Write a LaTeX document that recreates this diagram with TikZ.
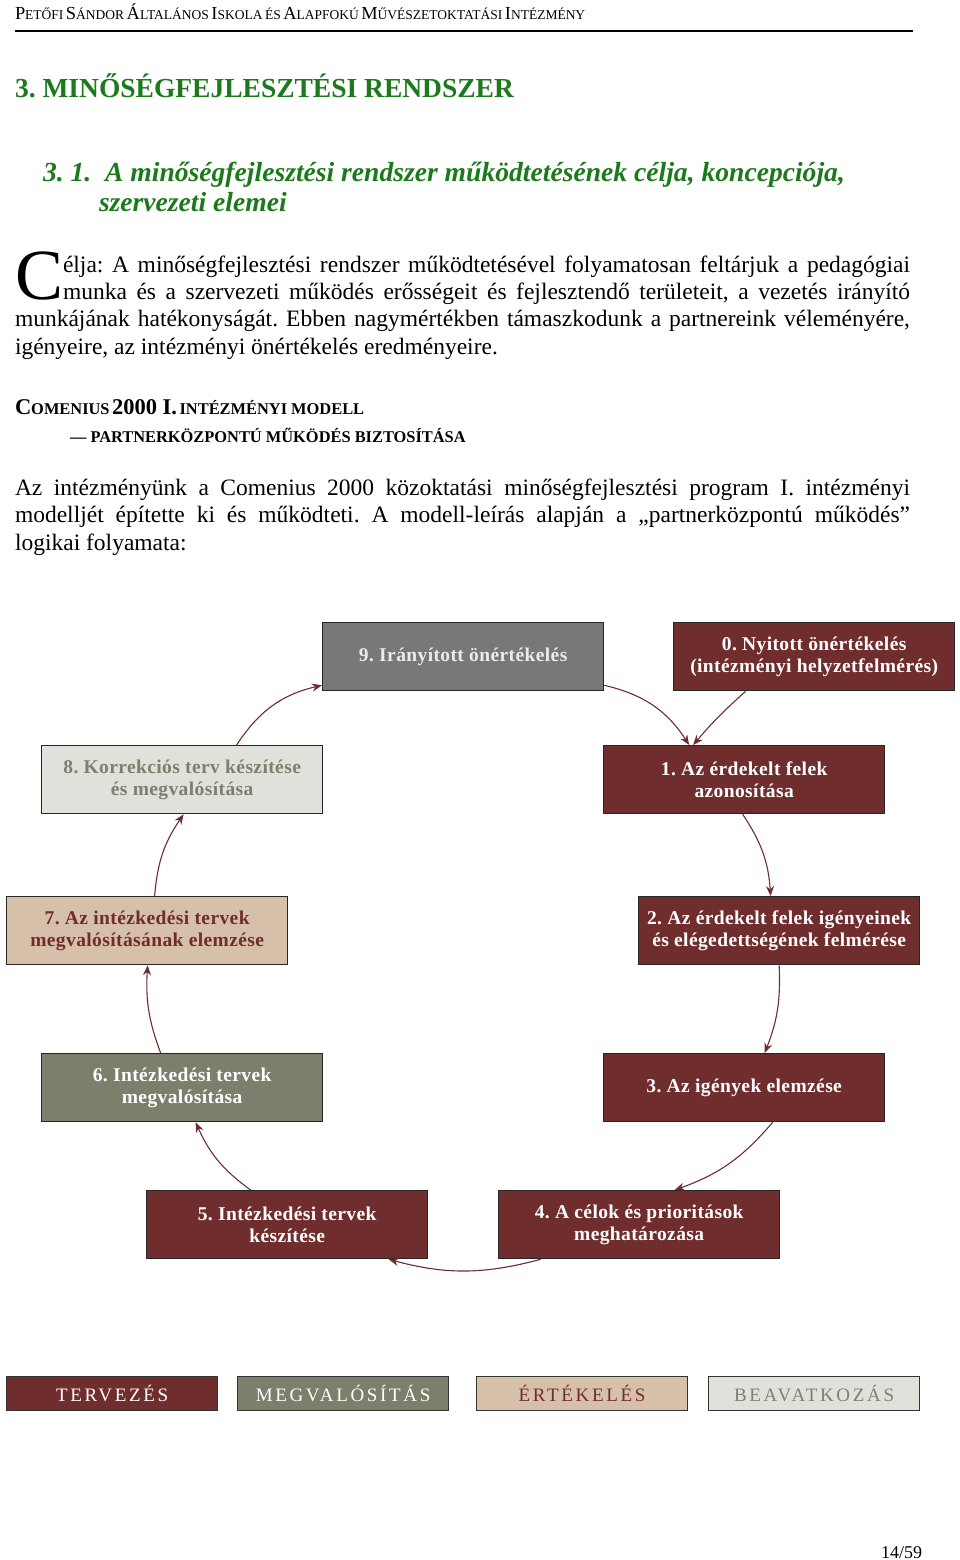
\documentclass[tikz,border=0pt]{standalone}
\usepackage{fontspec}
\setmainfont{Liberation Serif}
\newfontfamily\legfont{Liberation Serif}[LetterSpace=14]
\newfontfamily\boxfont{Liberation Serif}[LetterSpace=2]
\usetikzlibrary{arrows.meta,calc}
\definecolor{dred}{RGB}{112,45,45}
\definecolor{hgreen}{RGB}{28,122,28}
\definecolor{bgray}{RGB}{120,120,120}
\definecolor{ggreen}{RGB}{122,128,108}
\definecolor{tan}{RGB}{214,192,170}
\definecolor{lgray}{RGB}{225,225,220}
\definecolor{lgtext}{RGB}{125,128,110}
\newcommand\fsz[1]{\fontsize{#1}{#1}\selectfont}
\newcommand\hsc[2]{{\fsz{18.4}#1}{\fsz{13.5}#2}}
\newcommand\comsc[2]{{\fsz{22.5}#1}{\fsz{16.4}#2}}
\frenchspacing
\begin{document}
\begin{tikzpicture}[x=1pt,y=-1pt,
  txt/.style={anchor=base west,inner sep=0pt,outer sep=0pt},
  body/.style={txt,font=\fsz{23.5}},
  box/.style={draw=black!85,line width=1.3pt,minimum width=281pt,minimum height=68pt,
    inner sep=0pt,align=center,anchor=north west,font=\boxfont\fontsize{19.5}{22}\selectfont\bfseries},
  leg/.style={draw=black!80,line width=1.2pt,minimum width=211pt,minimum height=34pt,
    inner sep=0pt,anchor=north west,font=\legfont\fsz{19}},
  arr/.style={draw=dred,line width=1.1pt,-{Stealth[length=10pt,width=8pt]}}]
\fill[white] (0,0) rectangle (960,1560);
\useasboundingbox (0,0) rectangle (960,1560);
% header
\node[txt] (hdr) at (15,20) {\hsc{P}{ETŐFI} \hsc{S}{ÁNDOR} \hsc{Á}{LTALÁNOS} \hsc{I}{SKOLA} {\fsz{13.5}ÉS} \hsc{A}{LAPFOKÚ} \hsc{M}{ŰVÉSZETOKTATÁSI} \hsc{I}{NTÉZMÉNY}};
\coordinate (r1) at (15,31);
\coordinate (r2) at (913,31);
\draw[line width=2pt] (r1) -- (r2);
% headings
\node[txt,font=\fsz{27.5}\bfseries,text=hgreen] (h1) at (15,98) {3. MINŐSÉGFEJLESZTÉSI RENDSZER};
\node[txt,font=\fsz{27.6}\bfseries\itshape,text=hgreen] (h2a) at (43,181) {3. 1.\enspace A minőségfejlesztési rendszer működtetésének célja, koncepciója,};
\node[txt,font=\fsz{27.6}\bfseries\itshape,text=hgreen] (h2b) at (99,211) {szervezeti elemei};
% paragraph 1
\node[txt,font=\fsz{72}] (dc) at (15,299) {C};
\node[body] (p1) at (63,272) {\makebox[847pt][s]{élja: A minőségfejlesztési rendszer működtetésével folyamatosan feltárjuk a pedagógiai}};
\node[body] (p2) at (63,299) {\makebox[847pt][s]{munka és a szervezeti működés erősségeit és fejlesztendő területeit, a vezetés irányító}};
\node[body] (p3) at (15,326) {\makebox[895pt][s]{munkájának hatékonyságát. Ebben nagymértékben támaszkodunk a partnereink véleményére,}};
\node[body] (p4) at (15,354) {igényeire, az intézményi önértékelés eredményeire.};
% comenius
\node[txt,font=\bfseries] (c1) at (15,414) {\comsc{C}{OMENIUS} {\fsz{22.5}2000 I.} {\fsz{16.4}INTÉZMÉNYI MODELL}};
\node[txt,font=\bfseries\fsz{16.4}] (c2) at (70,442) {— PARTNERKÖZPONTÚ MŰKÖDÉS BIZTOSÍTÁSA};
% paragraph 2
\node[body] (q1) at (15,495) {\makebox[895pt][s]{Az intézményünk a Comenius 2000 közoktatási minőségfejlesztési program I. intézményi}};
\node[body] (q2) at (15,522) {\makebox[895pt][s]{modelljét építette ki és működteti. A modell-leírás alapján a „partnerközpontú működés”}};
\node[body] (q3) at (15,550) {logikai folyamata:};
% boxes
\node[box,fill=bgray,text=white!92!black] (b9) at (322,622) {9. Irányított önértékelés};
\node[box,fill=dred,text=white] (b0) at (673,622) {0. Nyitott önértékelés\\(intézményi helyzetfelmérés)};
\node[box,fill=lgray,text=lgtext] (b8) at (41,745) {8. Korrekciós terv készítése\\és megvalósítása};
\node[box,fill=dred,text=white] (b1) at (603,745) {1. Az érdekelt felek\\azonosítása};
\node[box,fill=tan,text=dred] (b7) at (6,896) {7. Az intézkedési tervek\\megvalósításának elemzése};
\node[box,fill=dred,text=white] (b2) at (638,896) {2. Az érdekelt felek igényeinek\\és elégedettségének felmérése};
\node[box,fill=ggreen,text=white] (b6) at (41,1053) {6. Intézkedési tervek\\megvalósítása};
\node[box,fill=dred,text=white] (b3) at (603,1053) {3. Az igények elemzése};
\node[box,fill=dred,text=white] (b5) at (146,1190) {5. Intézkedési tervek\\készítése};
\node[box,fill=dred,text=white] (b4) at (498,1190) {4. A célok és prioritások\\meghatározása};
% arrows
\draw[arr] ($(b8.north)+(54.5,0)$) to[bend left=22] ($(b9.south west)+(0,-6)$);
\draw[arr] ($(b9.south east)+(0,-6)$) to[bend left=22] ($(b1.north)+(-55,0)$);
\draw[arr] ($(b0.south)+(-68.5,0)$) to[bend right=4] ($(b1.north)+(-51,0)$);
\draw[arr] ($(b1.south)+(-1.5,0)$) to[bend left=15] ($(b2.north)+(-8.5,0)$);
\draw[arr] ($(b2.south)+(0,0)$) to[bend left=12] ($(b3.north)+(20.5,0)$);
\draw[arr] ($(b3.south)+(28.5,0)$) to[bend left=15] ($(b4.north)+(35.5,0)$);
\draw[arr] ($(b4.south)+(-98.5,0)$) to[bend left=15] ($(b5.south)+(101.5,0)$);
\draw[arr] ($(b5.north)+(-36.5,0)$) to[bend left=15] ($(b6.south)+(13.5,0)$);
\draw[arr] ($(b6.north)+(-21.5,0)$) to[bend left=12] ($(b7.south)+(0.5,0)$);
\draw[arr] ($(b7.north)+(7.5,0)$) to[bend left=15] ($(b8.south)+(1.5,0)$);
% legend
\node[leg,fill=dred,text=white] (l1) at (6,1376) {TERVEZÉS};
\node[leg,fill=ggreen,text=white] (l2) at (237,1376) {MEGVALÓSÍTÁS};
\node[leg,fill=tan,text=dred] (l3) at (476,1376) {ÉRTÉKELÉS};
\node[leg,fill=lgray,text=lgtext] (l4) at (708,1376) {BEAVATKOZÁS};
% page number
\node[txt,anchor=base east,font=\fsz{18}] (pg) at (922,1558) {14/59};
\end{tikzpicture}
\end{document}
